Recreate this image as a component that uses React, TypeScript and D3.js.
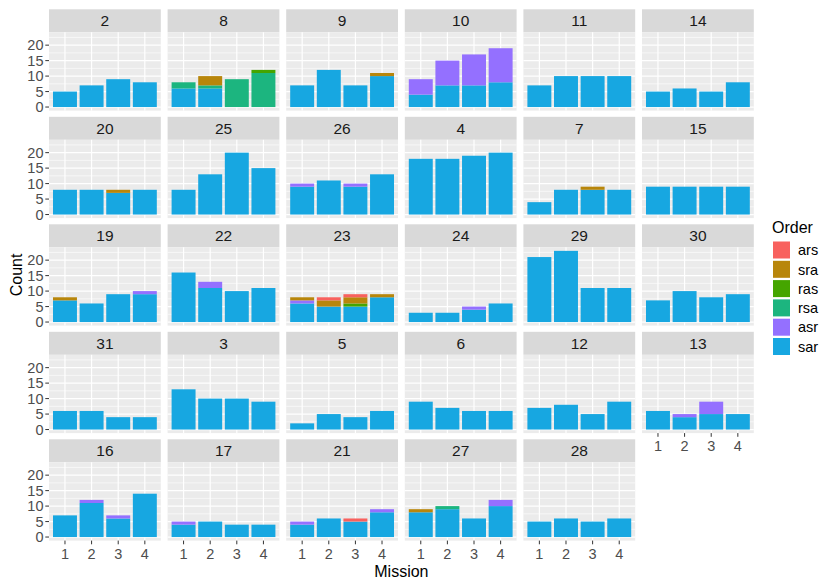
import React from "react";
import * as d3 from "d3";

// ---------- DATA ----------
const facets = [
  "2", "8", "9", "10", "11", "14",
  "20", "25", "26", "4", "7", "15",
  "19", "22", "23", "24", "29", "30",
  "31", "3", "5", "6", "12", "13",
  "16", "17", "21", "27", "28",
];
const missions = ["1", "2", "3", "4"];
// legend order (first level drawn on top of stack)
const orders = ["ars", "sra", "ras", "rsa", "asr", "sar"];
const orderColors = ["#F8615E", "#B8860B", "#45A500", "#1CB57F", "#9470FF", "#17A7E1"];

const sar: Record<string, number[]> = {
  "2": [5, 7, 9, 8], "8": [6, 6, 0, 0], "9": [7, 12, 7, 10], "10": [4, 7, 7, 8],
  "11": [7, 10, 10, 10], "14": [5, 6, 5, 8], "20": [8, 8, 7, 8], "25": [8, 13, 20, 15],
  "26": [9, 11, 9, 13], "4": [18, 18, 19, 20], "7": [4, 8, 8, 8], "15": [9, 9, 9, 9],
  "19": [7, 6, 9, 9], "22": [16, 11, 10, 11], "23": [6, 5, 5, 8], "24": [3, 3, 4, 6],
  "29": [21, 23, 11, 11], "30": [7, 10, 8, 9], "31": [6, 6, 4, 4], "3": [13, 10, 10, 9],
  "5": [2, 5, 4, 6], "6": [9, 7, 6, 6], "12": [7, 8, 5, 9], "13": [6, 4, 5, 5],
  "16": [7, 11, 6, 14], "17": [4, 5, 4, 4], "21": [4, 6, 5, 8], "27": [8, 9, 6, 10],
  "28": [5, 6, 5, 6],
};
const asr: Record<string, number[]> = {
  "10": [5, 8, 10, 11], "26": [1, 0, 1, 0], "19": [0, 0, 0, 1], "22": [0, 2, 0, 0],
  "23": [1, 0, 0, 0], "24": [0, 0, 1, 0], "13": [0, 1, 4, 0], "16": [0, 1, 1, 0],
  "17": [1, 0, 0, 0], "21": [1, 0, 0, 1], "27": [0, 0, 0, 2],
};
const rsa: Record<string, number[]> = { "8": [2, 1, 9, 11], "27": [0, 1, 0, 0] };
const ras: Record<string, number[]> = { "8": [0, 0, 0, 1], "23": [0, 0, 1, 0] };
const sra: Record<string, number[]> = {
  "8": [0, 3, 0, 0], "9": [0, 0, 0, 1], "20": [0, 0, 1, 0], "7": [0, 0, 1, 0],
  "19": [1, 0, 0, 0], "23": [1, 2, 2, 1], "27": [1, 0, 0, 0],
};
const ars: Record<string, number[]> = { "23": [0, 1, 1, 0], "21": [0, 0, 1, 0] };

const seriesByOrder: Record<string, Record<string, number[]>> = { ars, sra, ras, rsa, asr, sar };
const yTicks = [0, 5, 10, 15, 20];
const yMinor = [2.5, 7.5, 12.5, 17.5, 22.5];

// ---------- LAYOUT ----------
const W = 829, H = 583;
const NCOL = 6;
const left0 = 49, colStep = 118.6, panelW = 111.8;
const top0 = 9.3, stripH = 23, panelH = 78.3, rowStep = 107.5;
const FONT = "'Liberation Sans', Arial, Helvetica, sans-serif";

const stackOrder = [...orders].reverse(); // bottom first: sar, asr, ...

function val(order: string, facet: string, i: number) {
  const s = seriesByOrder[order][facet];
  return s ? s[i] : 0;
}

const maxTotal = d3.max(facets, (f) =>
  d3.max(missions, (_m, i) => d3.sum(orders, (o) => val(o, f, i)))
) as number;

const y = d3.scaleLinear().domain([-0.05 * maxTotal, maxTotal * 1.05]).range([panelH, 0]);
// discrete x scale with 0.6 expansion on each side: centers at 0.6 + k units, bar width 0.9 units
const xUnits = d3.scaleLinear().domain([-0.6, missions.length - 1 + 0.6]).range([0, panelW]);
const xc = (i: number) => xUnits(i);
const barW = xUnits(0.9) - xUnits(0);

function Panel({ facet, idx }: { facet: string; idx: number }) {
  const col = idx % NCOL;
  const row = Math.floor(idx / NCOL);
  const px = left0 + col * colStep;
  const sy = top0 + row * rowStep;
  const py = sy + stripH;
  const isLeft = col === 0;
  const below = idx + NCOL;
  const showX = below >= facets.length;

  const segs: React.ReactNode[] = [];
  missions.forEach((_m, i) => {
    let acc = 0;
    stackOrder.forEach((o) => {
      const v = val(o, facet, i);
      if (v > 0) {
        const c = orderColors[orders.indexOf(o)];
        segs.push(
          <rect
            key={`${o}-${i}`}
            x={xc(i) - barW / 2}
            y={y(acc + v)}
            width={barW}
            height={y(acc) - y(acc + v)}
            fill={c}
          />
        );
        acc += v;
      }
    });
  });

  return (
    <g>
      <rect x={px} y={sy} width={panelW} height={stripH} fill="#D9D9D9" />
      <text x={px + panelW / 2} y={sy + stripH / 2} dy="0.36em" textAnchor="middle" fontSize={15.5} fill="#1A1A1A" fontFamily={FONT}>
        {facet}
      </text>
      <g transform={`translate(${px},${py})`}>
        <rect width={panelW} height={panelH} fill="#EBEBEB" />
        {yMinor.map((t) => (
          <line key={`mn${t}`} x1={0} x2={panelW} y1={y(t)} y2={y(t)} stroke="#fff" strokeWidth={0.6} />
        ))}
        {yTicks.map((t) => (
          <line key={`mj${t}`} x1={0} x2={panelW} y1={y(t)} y2={y(t)} stroke="#fff" strokeWidth={1.2} />
        ))}
        {missions.map((m, i) => (
          <line key={`vx${m}`} x1={xc(i)} x2={xc(i)} y1={0} y2={panelH} stroke="#fff" strokeWidth={1.2} />
        ))}
        {segs}
        {isLeft &&
          yTicks.map((t) => (
            <g key={`yt${t}`}>
              <line x1={-3.7} x2={0} y1={y(t)} y2={y(t)} stroke="#333" strokeWidth={1} />
              <text x={-5.5} y={y(t)} dy="0.36em" textAnchor="end" fontSize={14.5} fill="#4D4D4D" fontFamily={FONT}>
                {t}
              </text>
            </g>
          ))}
        {showX &&
          missions.map((m, i) => (
            <g key={`xt${m}`}>
              <line x1={xc(i)} x2={xc(i)} y1={panelH} y2={panelH + 3.7} stroke="#333" strokeWidth={1} />
              <text x={xc(i)} y={panelH + 13} dy="0.36em" textAnchor="middle" fontSize={14.5} fill="#4D4D4D" fontFamily={FONT}>
                {m}
              </text>
            </g>
          ))}
      </g>
    </g>
  );
}

export default function App() {
  const panelsTop = top0;
  const panelsBottom = top0 + 4 * rowStep + stripH + panelH;
  const legX = 773, legTitleY = 227, legKey0 = 250, legStep = 19.3;
  return (
    <svg width={W} height={H} style={{ position: "absolute", left: 0, top: 0, background: "#fff" }}>
      <rect width={W} height={H} fill="#fff" />
      {facets.map((f, i) => (
        <Panel key={f} facet={f} idx={i} />
      ))}
      <text
        transform={`translate(16,${(panelsTop + panelsBottom) / 2}) rotate(-90)`}
        textAnchor="middle"
        dy="0.36em"
        fontSize={16}
        fill="#000"
        fontFamily={FONT}
      >
        Count
      </text>
      <text x={left0 + (5 * colStep + panelW) / 2} y={571} dy="0.36em" textAnchor="middle" fontSize={16} fill="#000" fontFamily={FONT}>
        Mission
      </text>
      <text x={legX - 1} y={legTitleY} dy="0.36em" fontSize={16} fill="#000" fontFamily={FONT}>
        Order
      </text>
      {orders.map((o, i) => (
        <g key={o}>
          <rect x={legX} y={legKey0 + i * legStep - 8.5} width={17} height={17} fill={orderColors[i]} />
          <text x={legX + 25} y={legKey0 + i * legStep} dy="0.36em" fontSize={14.5} fill="#000" fontFamily={FONT}>
            {o}
          </text>
        </g>
      ))}
    </svg>
  );
}
